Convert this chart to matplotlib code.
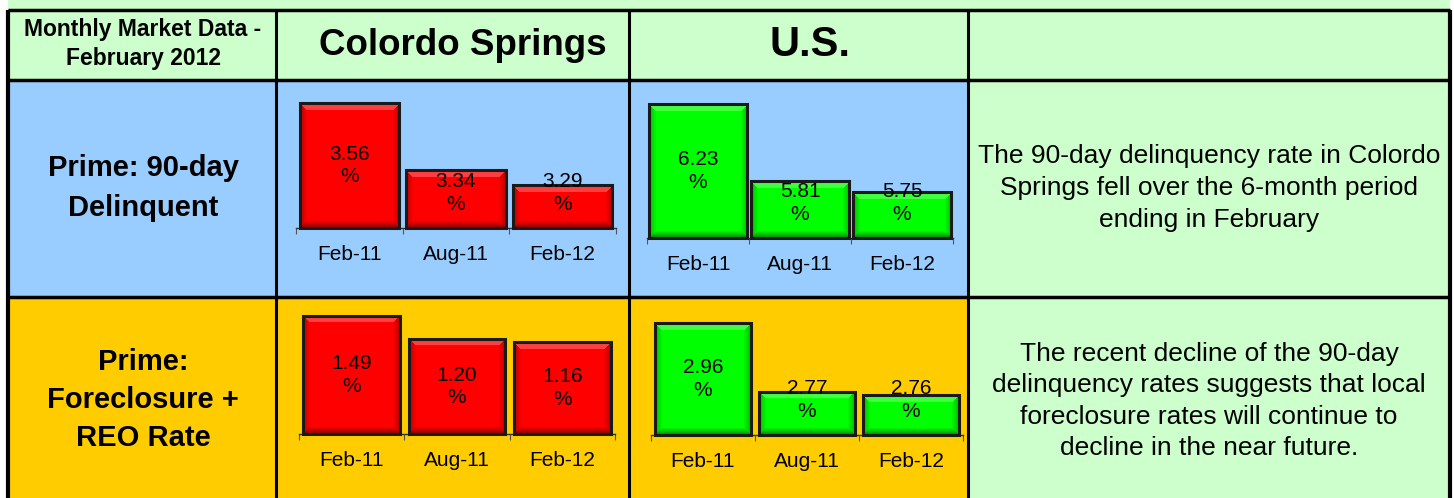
import matplotlib
matplotlib.use('Agg')
import matplotlib.pyplot as plt
from matplotlib.patches import Rectangle
from matplotlib.colors import to_rgb
import matplotlib.transforms as mtransforms
import numpy as np

plt.rcParams['font.family'] = ['Liberation Sans', 'DejaVu Sans']

categories = ['Feb-11', 'Aug-11', 'Feb-12']
cs_delinquent = [3.56, 3.34, 3.29]
us_delinquent = [6.23, 5.81, 5.75]
cs_foreclosure = [1.49, 1.20, 1.16]
us_foreclosure = [2.96, 2.77, 2.76]
axis_floor = [3.15, 5.5, 0.0, 2.65]

header_left = 'Monthly Market Data -\nFebruary 2012'
col_titles = ['Colordo Springs', 'U.S.']
row_titles = ['Prime: 90-day\nDelinquent', 'Prime:\nForeclosure +\nREO Rate']
comments = ['The 90-day delinquency rate in Colordo\nSprings fell over the 6-month period\nending in February',
            'The recent decline of the 90-day\ndelinquency rates suggests that local\nforeclosure rates will continue to\ndecline in the near future.']

W, H = 1454, 498
GREEN_BG = '#CCFFCC'
BLUE_BG = '#99CCFF'
GOLD_BG = '#FFCC00'

fig = plt.figure(figsize=(W / 100, H / 100), dpi=100)
fig.patch.set_facecolor('white')

# table grid drawn in pixel coordinates
bg = fig.add_axes([0, 0, 1, 1])
bg.set_xlim(0, W)
bg.set_ylim(H, 0)
bg.axis('off')

cols = [8, 276, 629, 968, 1450]
rows = [10, 80, 297, H + 5]

bg.add_patch(Rectangle((cols[0], 0), cols[-1] - cols[0], H, color=GREEN_BG, lw=0))
for r, colr in [(1, BLUE_BG), (2, GOLD_BG)]:
    bg.add_patch(Rectangle((cols[0], rows[r]), cols[3] - cols[0], rows[r + 1] - rows[r], color=colr, lw=0))

for y in rows[:-1]:
    bg.plot([cols[0], cols[-1]], [y, y], color='black', lw=2.5, solid_capstyle='butt')
for x in cols:
    lw = 3 if x in (cols[0], cols[-1]) else 2.2
    bg.plot([x, x], [rows[0], H], color='black', lw=lw, solid_capstyle='butt')

bg.text(143, 44, header_left, ha='center', va='center', fontsize=16.5, fontweight='bold', linespacing=1.3)
bg.text(463, 45, col_titles[0], ha='center', va='center', fontsize=26.5, fontweight='bold')
bg.text(810, 45, col_titles[1], ha='center', va='center', fontsize=30, fontweight='bold')
bg.text(143, 188, row_titles[0], ha='center', va='center', fontsize=21, fontweight='bold', linespacing=1.55)
bg.text(143, 400, row_titles[1], ha='center', va='center', fontsize=21, fontweight='bold', linespacing=1.45)
bg.text(1209, 188, comments[0], ha='center', va='center', fontsize=19, linespacing=1.4)
bg.text(1209, 401, comments[1], ha='center', va='center', fontsize=19, linespacing=1.38)


def bevel_image(color, w, h, band=7):
    base = np.array(to_rgb(color))
    yy, xx = np.mgrid[0:h, 0:w]
    d = np.stack([yy, h - 1 - yy, xx, w - 1 - xx])  # top, bottom, left, right
    nearest = d.argmin(axis=0)
    dist = d.min(axis=0)
    fac = np.ones((h, w))
    edge = np.clip(1 - dist / band, 0, 1)
    fac = np.where(nearest == 1, 1 - 0.45 * edge, fac)
    fac = np.where(nearest >= 2, 1 - 0.25 * edge, fac)
    img = base[None, None, :] * fac[..., None]
    top = (nearest == 0) & (dist < band)
    img[top] = img[top] + (1 - img[top]) * 0.25
    return np.clip(img, 0, 1)


def bar_panel(values, color, floor, box, width):
    x0, top, x1, base = box
    ax = fig.add_axes([x0 / W, 1 - base / H, (x1 - x0) / W, (base - top) / H])
    ax.set_facecolor('none')
    xs = np.arange(len(values))
    hi = max(values)
    ax_h = base - top
    px_w = (x1 - x0) / len(values)
    bars = ax.bar(xs, [v - floor for v in values], bottom=floor, width=width,
                  facecolor='none', edgecolor='#1a1a1a', lw=2.2, zorder=3, clip_on=False)
    for b, v in zip(bars, values):
        h = max(int(round((v - floor) / (hi - floor) * ax_h)), 2)
        w = int(round(px_w * width))
        ax.imshow(bevel_image(color, w, h), extent=(b.get_x(), b.get_x() + width, floor, v),
                  aspect='auto', origin='upper', zorder=2, interpolation='bilinear')
    ax.set_xlim(-0.5, len(values) - 0.5)
    ax.set_ylim(floor, hi)

    trans = mtransforms.blended_transform_factory(ax.transData, ax.transAxes)
    min_frac = 35 / ax_h
    for x, v in zip(xs, values):
        mid = (v - floor) / (hi - floor) / 2
        ax.text(x, max(mid, min_frac), f'{v:.2f}\n%', transform=trans, ha='center', va='center',
                fontsize=15, linespacing=1.25, zorder=4)

    for s in ['top', 'right', 'left']:
        ax.spines[s].set_visible(False)
    ax.spines['bottom'].set_color('#333333')
    ax.spines['bottom'].set_linewidth(1)
    ax.set_yticks([])
    ax.set_xticks(xs)
    ax.set_xticklabels(categories, fontsize=15)
    ax.set_xticks(np.arange(-0.5, len(values)), minor=True)
    ax.tick_params(axis='x', which='major', length=0, pad=12)
    ax.tick_params(axis='x', which='minor', length=4, width=0.8, color='#555555', direction='out')
    return ax


bar_panel(cs_delinquent, '#FF0000', axis_floor[0], (296, 103, 616, 228), 0.93)
bar_panel(us_delinquent, '#00FF00', axis_floor[1], (647, 104, 953, 238), 0.97)
bar_panel(cs_foreclosure, '#FF0000', axis_floor[2], (299, 316, 615, 434), 0.92)
bar_panel(us_foreclosure, '#00FF00', axis_floor[3], (651, 323, 963, 435), 0.92)

fig.savefig('out.png', dpi=100)
